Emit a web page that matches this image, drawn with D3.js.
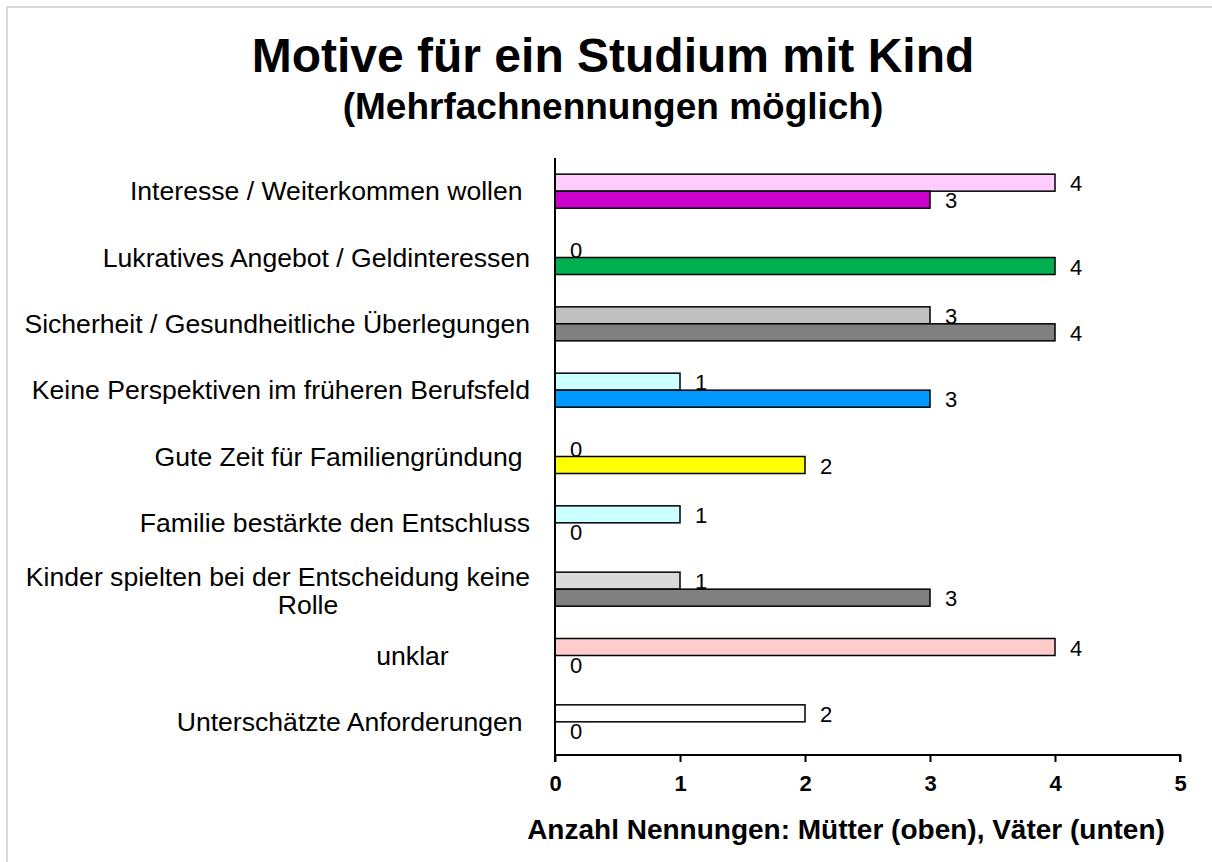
<!DOCTYPE html>
<html>
<head>
<meta charset="utf-8">
<script src="https://cdn.jsdelivr.net/npm/d3@7"></script>
<style>
  body { margin: 0; background: #fff; }
  text { font-family: "Liberation Sans", Arial, sans-serif; fill: #000; }
</style>
</head>
<body>
<script>
const categories = [
  "Interesse / Weiterkommen wollen ",
  "Lukratives Angebot / Geldinteressen",
  "Sicherheit / Gesundheitliche Überlegungen",
  "Keine Perspektiven im früheren Berufsfeld",
  "Gute Zeit für Familiengründung ",
  "Familie bestärkte den Entschluss",
  "Kinder spielten bei der Entscheidung keine Rolle",
  "unklar           ",
  "Unterschätzte Anforderungen "
];
const mothers = [4, 0, 3, 1, 0, 1, 1, 4, 2];
const fathers = [3, 4, 4, 3, 2, 0, 3, 0, 0];
const motherColors = ["#ffccff", "#ffffff", "#c0c0c0", "#ccffff", "#ffffff", "#ccffff", "#d9d9d9", "#ffcccc", "#ffffff"];
const fatherColors = ["#cc00cc", "#00b050", "#808080", "#0099ff", "#ffff00", "#ffffff", "#808080", "#ffffff", "#ffffff"];
const xTicks = [0, 1, 2, 3, 4, 5];

const width = 1212, height = 862;
const margin = { top: 158, bottom: 107, left: 555, right: 32 };

const svg = d3.select("body").append("svg")
  .attr("width", width)
  .attr("height", height);

// outer frame (only top/left visible)
svg.append("rect")
  .attr("x", 7).attr("y", 7)
  .attr("width", width + 20).attr("height", height + 20)
  .attr("fill", "none")
  .attr("stroke", "#d9d9d9")
  .attr("stroke-width", 2);

// titles
svg.append("text")
  .attr("x", 613).attr("y", 72)
  .attr("text-anchor", "middle")
  .style("font-size", "48px").style("font-weight", "bold")
  .text("Motive für ein Studium mit Kind");
svg.append("text")
  .attr("x", 613).attr("y", 119)
  .attr("text-anchor", "middle")
  .style("font-size", "37px").style("font-weight", "bold")
  .text("(Mehrfachnennungen möglich)");

// scales
const x = d3.scaleLinear()
  .domain([0, 5])
  .range([margin.left, width - margin.right]);

const y = d3.scaleBand()
  .domain(categories)
  .range([margin.top, height - margin.bottom])
  .padding(0);

const barH = 17;
const sub = d3.scaleBand()
  .domain(["Mütter", "Väter"])
  .range([y.bandwidth() / 2 - barH, y.bandwidth() / 2 + barH]);

const rows = categories.map((c, i) => ({
  cat: c,
  bars: [
    { key: "Mütter", value: mothers[i], color: motherColors[i] },
    { key: "Väter", value: fathers[i], color: fatherColors[i] }
  ]
}));

const g = svg.selectAll("g.row")
  .data(rows)
  .enter()
  .append("g")
    .attr("class", "row")
    .attr("transform", d => `translate(0,${y(d.cat)})`);

g.selectAll("rect")
  .data(d => d.bars.filter(b => b.value > 0))
  .enter()
  .append("rect")
    .attr("x", x(0))
    .attr("y", b => sub(b.key))
    .attr("width", b => x(b.value) - x(0))
    .attr("height", sub.bandwidth())
    .attr("fill", b => b.color)
    .attr("stroke", "#000")
    .attr("stroke-width", 1.5);

// value labels
g.selectAll("text.val")
  .data(d => d.bars)
  .enter()
  .append("text")
    .attr("class", "val")
    .attr("x", b => x(b.value) + 15)
    .attr("y", b => sub(b.key) + sub.bandwidth() / 2)
    .attr("dy", "0.4em")
    .style("font-size", "22px")
    .text(b => b.value);

// y axis line
svg.append("line")
  .attr("x1", x(0)).attr("x2", x(0))
  .attr("y1", margin.top).attr("y2", height - margin.bottom)
  .attr("stroke", "#000").attr("stroke-width", 2);

// category labels
const labelRight = 530;
svg.selectAll("text.cat")
  .data(categories)
  .enter()
  .append("text")
    .attr("class", "cat")
    .attr("text-anchor", "end")
    .attr("x", labelRight)
    .attr("y", d => y(d) + y.bandwidth() / 2)
    .attr("dy", "0.35em")
    .style("font-size", "26.6px")
    .style("white-space", "pre")
    .each(function(d) {
      const t = d3.select(this);
      if (d.startsWith("Kinder spielten")) {
        t.attr("dy", null);
        t.append("tspan").attr("x", labelRight).attr("dy", "-0.12em").text("Kinder spielten bei der Entscheidung keine");
        t.append("tspan").attr("x", 308).attr("text-anchor", "middle").attr("dy", "1.05em").text("Rolle");
      } else {
        t.text(d);
      }
    });

// x axis
const xAxis = d3.axisBottom(x)
  .tickValues(xTicks)
  .tickSize(7)
  .tickPadding(13)
  .tickFormat(d3.format("d"));

svg.append("g")
  .attr("transform", `translate(0,${height - margin.bottom})`)
  .call(xAxis)
  .call(a => a.select(".domain").attr("stroke-width", 2).attr("d", `M${x(0)},7V0H${x(5)}V7`))
  .call(a => a.selectAll(".tick line").attr("stroke-width", 2))
  .call(a => a.selectAll(".tick text")
    .style("font-size", "22px").style("font-weight", "bold")
    .style("font-family", "'Liberation Sans', Arial, sans-serif"));

svg.append("text")
  .attr("x", 846).attr("y", 839)
  .attr("text-anchor", "middle")
  .style("font-size", "28px").style("font-weight", "bold")
  .text("Anzahl Nennungen: Mütter (oben), Väter (unten)");
</script>
</body>
</html>
